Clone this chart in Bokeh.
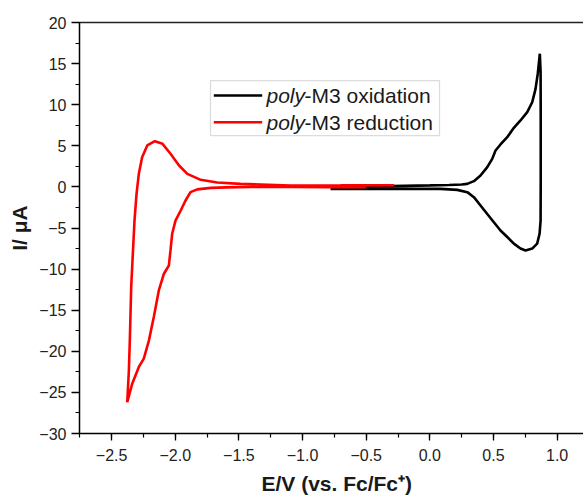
from bokeh.plotting import figure
from bokeh.models import (Range1d, SingleIntervalTicker, LinearAxis, FixedTicker,
                          CustomJSTickFormatter, BoxAnnotation, Label, Title)
from bokeh.embed import file_html
from bokeh.resources import INLINE

# ---------------- data ----------------
ox_E = [-0.78, -0.60, -0.40, -0.20, 0.00, 0.15, 0.25, 0.294, 0.346, 0.398, 0.451, 0.490,
        0.516, 0.555, 0.608, 0.660, 0.712, 0.765, 0.804, 0.830, 0.848, 0.864, 0.870,
        0.871, 0.871, 0.870, 0.862, 0.843, 0.804, 0.752, 0.712, 0.660, 0.608, 0.555,
        0.503, 0.451, 0.398, 0.346, 0.294, 0.215, 0.084, -0.10, -0.30, -0.50, -0.78]
ox_I = [-0.05, 0.02, 0.08, 0.13, 0.18, 0.24, 0.30, 0.37, 0.70, 1.39, 2.40, 3.41,
        4.43, 5.16, 6.05, 7.19, 8.08, 9.09, 10.3, 11.9, 13.8, 16.2, 14.0,
        8.0, 1.0, -4.1, -5.7, -6.9, -7.5, -7.74, -7.5, -6.9, -6.1, -5.3,
        -4.3, -3.3, -2.26, -1.25, -0.64, -0.36, -0.24, -0.24, -0.24, -0.25, -0.25]

red_E = [-0.50, -0.80, -1.10, -1.40, -1.60, -1.72, -1.827, -1.88, -1.919, -1.958, -1.998,
         -2.024, -2.037, -2.05, -2.09, -2.129, -2.168, -2.207, -2.247, -2.286, -2.338,
         -2.377, -2.364, -2.356, -2.346, -2.333, -2.32, -2.304, -2.286, -2.26, -2.22,
         -2.16, -2.10, -2.037, -1.97, -1.905, -1.80, -1.67, -1.487, -1.094, -0.70, -0.28]
red_I = [-0.05, -0.03, 0.00, -0.02, -0.06, -0.12, -0.30, -0.64, -1.65, -2.9, -4.1,
         -5.7, -7.7, -9.56, -10.6, -12.6, -15.8, -18.7, -20.9, -21.9, -23.95,
         -26.2, -22.3, -18.3, -12.2, -8.1, -4.1, -0.84, 1.59, 3.6, 5.04,
         5.56, 5.24, 4.03, 2.6, 1.59, 0.86, 0.54, 0.37, 0.17, 0.18, 0.20]

series_prefix = ["poly", "poly"]
series_suffix = ["-M3 oxidation", "-M3 reduction"]
series_color = ["black", "#ff0000"]

x_label = "E/V (vs. Fc/Fc\u207a)"
y_label = "I/ \u03bcA"

# ---------------- layout / style ----------------
FONT = "Liberation Sans"
TXT = "#1a1a1a"

p = figure(width=583, height=500, output_backend="svg", toolbar_location=None,
           x_range=Range1d(-2.752, 1.207), y_range=Range1d(-30, 20),
           min_border_left=79, min_border_right=0, min_border_top=22, min_border_bottom=67)
p.outline_line_color = None
p.grid.visible = False
p.background_fill_color = "white"
p.border_fill_color = "white"

top = LinearAxis(ticker=FixedTicker(ticks=[]), major_label_text_font_size="0px",
                 axis_line_width=1.5, axis_line_color="#222222",
                 major_tick_line_color=None, minor_tick_line_color=None)
p.add_layout(top, "above")

xa = p.below[0]
ya = p.left[0]
xa.ticker = SingleIntervalTicker(interval=0.5, num_minor_ticks=2)
ya.ticker = SingleIntervalTicker(interval=5, num_minor_ticks=2)
xa.formatter = CustomJSTickFormatter(
    code="var t = Math.abs(tick) < 1e-9 ? 0 : tick; return t.toFixed(1).replace('-', '\u2212');")
ya.formatter = CustomJSTickFormatter(
    code="var t = Math.abs(tick) < 1e-9 ? 0 : tick; return t.toFixed(0).replace('-', '\u2212');")

for ax in (xa, ya):
    ax.axis_line_width = 1.5
    ax.axis_line_color = "black"
    ax.major_tick_line_color = "black"
    ax.minor_tick_line_color = "black"
    ax.major_tick_line_width = 1.3
    ax.minor_tick_line_width = 1.2
    ax.major_tick_in = 0
    ax.minor_tick_in = 0
    ax.major_label_text_font = FONT
    ax.major_label_text_font_size = "16px"
    ax.major_label_text_color = "#222222"
    ax.axis_label_text_font = FONT
    ax.axis_label_text_font_size = "21px"
    ax.axis_label_text_font_style = "bold"
    ax.axis_label_text_color = TXT

xa.major_tick_out = 7
xa.minor_tick_out = 4
xa.major_label_standoff = 8
ya.major_tick_out = 8
ya.minor_tick_out = 4
ya.major_label_standoff = 5
ya.axis_label = y_label
ya.axis_label_standoff = 5

p.line(ox_E, ox_I, line_color=series_color[0], line_width=2.6)
p.line(red_E, red_I, line_color=series_color[1], line_width=2.6)

# x axis label as a title below the axis, shifted to where the reference has it
p.add_layout(Title(text=x_label, align="left", offset=182, text_font=FONT,
                   text_font_size="21px", text_font_style="bold", text_color=TXT,
                   standoff=12), "below")

# legend (custom so that "poly" can be italic)
leg_left, leg_right, leg_top, leg_bottom = -1.723, 0.076, 12.94, 6.25
leg_line_x0, leg_line_x1, leg_text_x = -1.697, -1.317, -1.283
leg_rows = [11.12, 7.87]
p.add_layout(BoxAnnotation(left=leg_left, right=leg_right, top=leg_top, bottom=leg_bottom,
                           fill_color="white", fill_alpha=1.0, line_color="#8a8a8a",
                           line_width=1.2, level="underlay"))
p.segment(x0=[leg_line_x0] * 2, x1=[leg_line_x1] * 2, y0=leg_rows, y1=leg_rows,
          line_color=series_color, line_width=2.6)
for row, pre, suf in zip(leg_rows, series_prefix, series_suffix):
    p.add_layout(Label(x=leg_text_x, y=row, text=pre, text_font=FONT, text_font_size="21px",
                       text_font_style="italic", text_color=TXT, text_baseline="middle"))
    p.add_layout(Label(x=leg_text_x, y=row, x_offset=38, text=suf, text_font=FONT,
                       text_font_size="21px", text_color=TXT, text_baseline="middle"))

open("out.html", "w").write(file_html(p, INLINE))
